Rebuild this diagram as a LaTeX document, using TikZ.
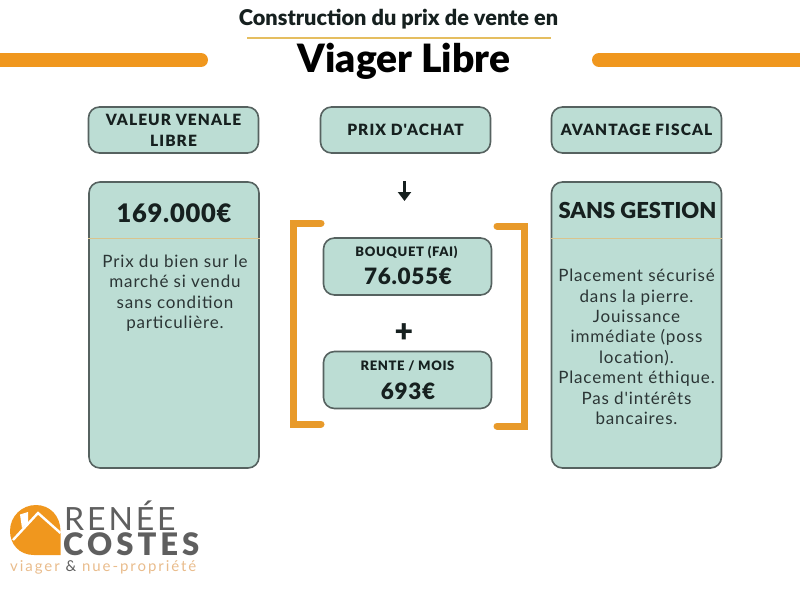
\documentclass[tikz,border=0pt]{standalone}
\usepackage{fontspec}
\usetikzlibrary{arrows.meta}
\setmainfont{Lato}
\newfontfamily\bodyfont[LetterSpace=5]{Lato}
\newfontfamily\labelfont[LetterSpace=7]{Lato Black}
\newfontfamily\smallfont[LetterSpace=5]{Lato Black}
\newfontfamily\numfont[LetterSpace=3]{Lato Black}
\newfontfamily\titlefont{Lato Black}
\newfontfamily\logofont[LetterSpace=9]{Lato}
\newfontfamily\logobold[LetterSpace=13]{Lato Black}
\newfontfamily\tagfont[LetterSpace=13]{Lato}
\definecolor{teal1}{HTML}{BCDDD4}
\definecolor{edge1}{HTML}{566260}
\definecolor{orange1}{HTML}{F0971E}
\definecolor{bracket1}{HTML}{E89A2A}
\definecolor{ink1}{HTML}{16201F}
\definecolor{ink2}{HTML}{2B3535}
\definecolor{rule1}{HTML}{E5BE60}
\definecolor{sep1}{HTML}{D9C48E}
\definecolor{logogray}{HTML}{5F5F5F}
\definecolor{logotan}{HTML}{E9BC8C}
\tikzset{
  card/.style={draw=edge1,line width=1.6pt,fill=teal1,rounded corners=11pt,text=ink1,inner sep=0pt,align=center},
  headcard/.style={card,font=\labelfont\fontsize{15.5}{21}\selectfont},
  bigbox/.style={card},
  bigtitle/.style={text=ink1,font=\numfont\fontsize{25.5}{28}\selectfont,inner sep=0pt},
  para/.style={text=ink2,font=\bodyfont\fontsize{17}{20.4}\selectfont,align=center,inner sep=0pt},
  small/.style={text=ink1,font=\smallfont\fontsize{13}{15}\selectfont,inner sep=0pt},
  amount/.style={text=ink1,font=\numfont\fontsize{22.5}{26}\selectfont,inner sep=0pt},
  bar/.style={orange1,line width=14pt,line cap=round},
  brk/.style={bracket1,line width=7pt,line cap=round,line join=miter},
}
\begin{document}
\begin{tikzpicture}[x=1pt,y=-1pt]
\useasboundingbox (0,0) rectangle (800,600);
% header
\node[text=ink1,inner sep=0pt,font=\titlefont\fontsize{21.7}{25}\selectfont] (title) at (398.5,19.5) {Construction du prix de vente en};
\coordinate (ruleL) at (247,38);
\coordinate (ruleR) at (551,38);
\draw[rule1,line width=2.5pt] (ruleL) -- (ruleR);
\node[text=black,inner sep=0pt,font=\titlefont\fontsize{39}{43}\selectfont] (viager) at (404,61) {Viager Libre};
\draw[bar] (-10,60) -- (201,60);
\draw[bar] (599,60) -- (810,60);
% heads
\node[headcard,minimum width=170pt,minimum height=46pt] (h1) at (173.5,130) {VALEUR VENALE\\LIBRE};
\node[headcard,minimum width=170pt,minimum height=46pt] (h2) at (405.5,130) {PRIX D'ACHAT};
\node[headcard,minimum width=170pt,minimum height=46pt] (h3) at (636.5,130) {AVANTAGE FISCAL};
% big cards
\node[bigbox,minimum width=170pt,minimum height=286pt] (c1) at (174,325) {};
\node[bigbox,minimum width=170pt,minimum height=286pt] (c3) at (636.5,325) {};
\draw[sep1,line width=1pt] (c1.west |- 0,238.5) -- (c1.east |- 0,238.5);
\draw[sep1,line width=1pt] (c3.west |- 0,238.5) -- (c3.east |- 0,238.5);
\node[bigtitle] (t1) at (174,213) {169.000€};
\node[para] (p1) at (175,293) {Prix du bien sur le\\marché si vendu\\sans condition\\particulière.};
\node[text=ink1,inner sep=0pt,font=\titlefont\fontsize{22}{25}\selectfont] (t3) at (637.5,210) {SANS GESTION};
\node[para] (p3) at (636.5,347) {Placement sécurisé\\dans la pierre.\\Jouissance\\immédiate (poss\\location).\\Placement éthique.\\Pas d'intérêts\\bancaires.};
% centre
\coordinate (arrA) at (404.5,181);
\coordinate (arrB) at (404.5,201);
\draw[-{Triangle[length=9pt,width=13pt]},line width=3pt,ink1] (arrA) -- (arrB);
\node[card,minimum width=168pt,minimum height=57pt] (b1) at (407.5,266.5) {};
\node[small] (b1a) at (406.5,252) {BOUQUET (FAI)};
\node[amount] (b1b) at (408,276) {76.055€};
\node[text=ink1,inner sep=0pt,font=\numfont\fontsize{32}{32}\selectfont] (plus) at (404,333) {+};
\node[card,minimum width=168pt,minimum height=57pt] (b2) at (407.5,380) {};
\node[small] (b2a) at (407.5,366) {RENTE / MOIS};
\node[amount] (b2b) at (408,391) {693€};
% brackets
\draw[brk] (321,223) -- (293,223) -- (293,424) -- (321,424);
\draw[brk] (497,226) -- (524.5,226) -- (524.5,426) -- (497,426);
% logo
\fill[orange1] (60.5,555) -- (34,555) .. controls (19,555) and (10,544) .. (10,531) .. controls (10,516) and (22,505) .. (36,505) .. controls (50,505) and (60.5,516) .. (60.5,531) -- cycle;
\fill[white] (20,514.5) -- (28,512) -- (28,523) -- (22,528) -- cycle;
\draw[white,line width=2.4pt,line join=miter] (13,540) -- (38,513) -- (60.5,533);
\node[text=logogray,anchor=west,inner sep=0pt,font=\logofont\fontsize{32}{32}\selectfont] (renee) at (64,516) {RENÉE};
\node[text=logogray,anchor=west,inner sep=0pt,font=\logobold\fontsize{31}{31}\selectfont] (costes) at (63,544) {COSTES};
\node[text=logotan,anchor=west,inner sep=0pt,font=\tagfont\fontsize{15}{16}\selectfont] (tag) at (10,567) {viager \textcolor{logogray}{\&} nue-propriété};
\end{tikzpicture}
\end{document}
